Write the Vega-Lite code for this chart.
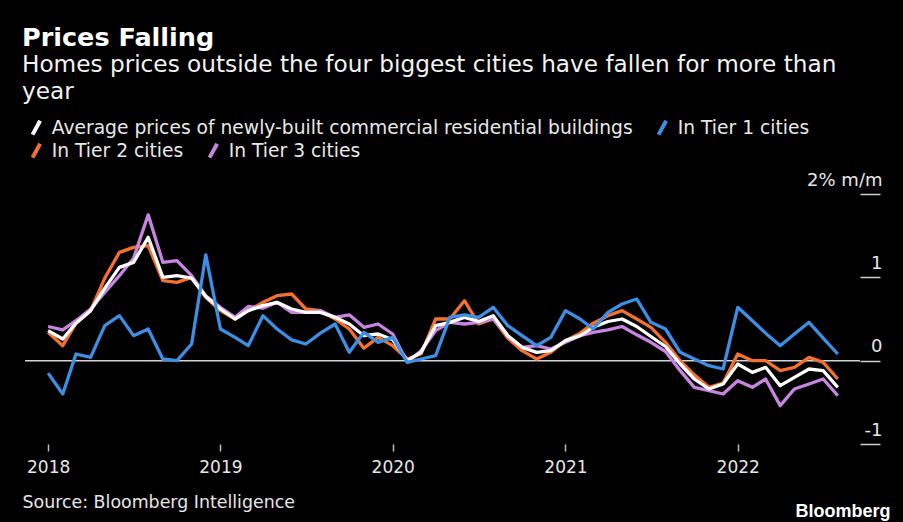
{
  "$schema": "https://vega.github.io/schema/vega-lite/v6.json",
  "width": 835,
  "height": 250,
  "autosize": {"type": "none"},
  "padding": {"left": 25, "top": 194, "right": 43, "bottom": 78},
  "background": "#000000",
  "title": {
    "text": "Prices Falling",
    "subtitle": ["Homes prices outside the four biggest cities have fallen for more than", "year"],
    "anchor": "start",
    "frame": "group",
    "dx": -3,
    "offset": 15,
    "font": "DejaVu Sans",
    "fontSize": 25.5,
    "fontWeight": "bold",
    "color": "#ffffff",
    "subtitleFont": "DejaVu Sans",
    "subtitleFontSize": 23.2,
    "subtitleColor": "#f2f2f2",
    "subtitlePadding": 2,
    "subtitleLineHeight": 27
  },
  "data": {
    "values": [
      {"date": "2018-01-01", "avg": 0.36, "t1": -0.15, "t2": 0.34, "t3": 0.41},
      {"date": "2018-02-01", "avg": 0.26, "t1": -0.40, "t2": 0.18, "t3": 0.37},
      {"date": "2018-03-01", "avg": 0.45, "t1": 0.08, "t2": 0.45, "t3": 0.48},
      {"date": "2018-04-01", "avg": 0.60, "t1": 0.04, "t2": 0.60, "t3": 0.62},
      {"date": "2018-05-01", "avg": 0.87, "t1": 0.42, "t2": 0.99, "t3": 0.82},
      {"date": "2018-06-01", "avg": 1.12, "t1": 0.54, "t2": 1.30, "t3": 1.02},
      {"date": "2018-07-01", "avg": 1.18, "t1": 0.30, "t2": 1.36, "t3": 1.23},
      {"date": "2018-08-01", "avg": 1.48, "t1": 0.38, "t2": 1.38, "t3": 1.75},
      {"date": "2018-09-01", "avg": 1.00, "t1": 0.02, "t2": 0.96, "t3": 1.18},
      {"date": "2018-10-01", "avg": 1.02, "t1": 0.00, "t2": 0.94, "t3": 1.20},
      {"date": "2018-11-01", "avg": 0.99, "t1": 0.20, "t2": 1.00, "t3": 1.02},
      {"date": "2018-12-01", "avg": 0.77, "t1": 1.27, "t2": 0.76, "t3": 0.78},
      {"date": "2019-01-01", "avg": 0.62, "t1": 0.38, "t2": 0.60, "t3": 0.64},
      {"date": "2019-02-01", "avg": 0.50, "t1": 0.28, "t2": 0.50, "t3": 0.52},
      {"date": "2019-03-01", "avg": 0.60, "t1": 0.18, "t2": 0.60, "t3": 0.65},
      {"date": "2019-04-01", "avg": 0.66, "t1": 0.54, "t2": 0.70, "t3": 0.63},
      {"date": "2019-05-01", "avg": 0.70, "t1": 0.38, "t2": 0.78, "t3": 0.70},
      {"date": "2019-06-01", "avg": 0.62, "t1": 0.25, "t2": 0.80, "t3": 0.58},
      {"date": "2019-07-01", "avg": 0.58, "t1": 0.20, "t2": 0.62, "t3": 0.58},
      {"date": "2019-08-01", "avg": 0.58, "t1": 0.33, "t2": 0.60, "t3": 0.60},
      {"date": "2019-09-01", "avg": 0.52, "t1": 0.44, "t2": 0.50, "t3": 0.52},
      {"date": "2019-10-01", "avg": 0.44, "t1": 0.10, "t2": 0.38, "t3": 0.55},
      {"date": "2019-11-01", "avg": 0.30, "t1": 0.34, "t2": 0.15, "t3": 0.40},
      {"date": "2019-12-01", "avg": 0.32, "t1": 0.22, "t2": 0.28, "t3": 0.44},
      {"date": "2020-01-01", "avg": 0.25, "t1": 0.28, "t2": 0.18, "t3": 0.32},
      {"date": "2020-02-01", "avg": 0.00, "t1": -0.02, "t2": 0.02, "t3": -0.02},
      {"date": "2020-03-01", "avg": 0.10, "t1": 0.02, "t2": 0.08, "t3": 0.12},
      {"date": "2020-04-01", "avg": 0.42, "t1": 0.06, "t2": 0.50, "t3": 0.36},
      {"date": "2020-05-01", "avg": 0.46, "t1": 0.52, "t2": 0.50, "t3": 0.46},
      {"date": "2020-06-01", "avg": 0.52, "t1": 0.55, "t2": 0.72, "t3": 0.44},
      {"date": "2020-07-01", "avg": 0.47, "t1": 0.52, "t2": 0.44, "t3": 0.46},
      {"date": "2020-08-01", "avg": 0.54, "t1": 0.64, "t2": 0.50, "t3": 0.50},
      {"date": "2020-09-01", "avg": 0.30, "t1": 0.42, "t2": 0.27, "t3": 0.30},
      {"date": "2020-10-01", "avg": 0.16, "t1": 0.30, "t2": 0.12, "t3": 0.16},
      {"date": "2020-11-01", "avg": 0.10, "t1": 0.18, "t2": 0.02, "t3": 0.18},
      {"date": "2020-12-01", "avg": 0.12, "t1": 0.28, "t2": 0.10, "t3": 0.14},
      {"date": "2021-01-01", "avg": 0.24, "t1": 0.60, "t2": 0.24, "t3": 0.22},
      {"date": "2021-02-01", "avg": 0.30, "t1": 0.50, "t2": 0.33, "t3": 0.30},
      {"date": "2021-03-01", "avg": 0.40, "t1": 0.38, "t2": 0.45, "t3": 0.34},
      {"date": "2021-04-01", "avg": 0.47, "t1": 0.58, "t2": 0.54, "t3": 0.37},
      {"date": "2021-05-01", "avg": 0.50, "t1": 0.68, "t2": 0.60, "t3": 0.41},
      {"date": "2021-06-01", "avg": 0.41, "t1": 0.74, "t2": 0.50, "t3": 0.31},
      {"date": "2021-07-01", "avg": 0.29, "t1": 0.46, "t2": 0.40, "t3": 0.22},
      {"date": "2021-08-01", "avg": 0.17, "t1": 0.38, "t2": 0.22, "t3": 0.11},
      {"date": "2021-09-01", "avg": -0.04, "t1": 0.10, "t2": 0.00, "t3": -0.12},
      {"date": "2021-10-01", "avg": -0.22, "t1": 0.02, "t2": -0.17, "t3": -0.32},
      {"date": "2021-11-01", "avg": -0.34, "t1": -0.06, "t2": -0.32, "t3": -0.36},
      {"date": "2021-12-01", "avg": -0.28, "t1": -0.10, "t2": -0.27, "t3": -0.40},
      {"date": "2022-01-01", "avg": -0.04, "t1": 0.64, "t2": 0.08, "t3": -0.24},
      {"date": "2022-02-01", "avg": -0.14, "t1": 0.48, "t2": 0.00, "t3": -0.32},
      {"date": "2022-03-01", "avg": -0.08, "t1": 0.33, "t2": 0.00, "t3": -0.22},
      {"date": "2022-04-01", "avg": -0.30, "t1": 0.18, "t2": -0.12, "t3": -0.54},
      {"date": "2022-05-01", "avg": -0.20, "t1": 0.32, "t2": -0.08, "t3": -0.34},
      {"date": "2022-06-01", "avg": -0.10, "t1": 0.46, "t2": 0.04, "t3": -0.28},
      {"date": "2022-07-01", "avg": -0.12, "t1": 0.27, "t2": -0.02, "t3": -0.22},
      {"date": "2022-08-01", "avg": -0.32, "t1": 0.08, "t2": -0.22, "t3": -0.42}
    ]
  },
  "layer": [
    {
      "data": {"values": [{}]},
      "mark": {"type": "rule", "color": "#d4d4d4", "strokeWidth": 1.5},
      "encoding": {"y": {"datum": 0}}
    },
    {
      "transform": [{"fold": ["t2", "t3"], "as": ["series", "value"]}],
      "mark": {"type": "line", "strokeWidth": 3.3, "strokeJoin": "round"},
      "encoding": {
        "x": {
          "field": "date",
          "type": "temporal",
          "scale": {"type": "utc", "domain": [{"year": 2017, "month": 11, "date": 13, "utc": true}, {"year": 2022, "month": 9, "date": 17, "utc": true}]},
          "axis": {
            "orient": "bottom",
            "values": [
              {"year": 2018, "month": 1, "date": 1, "utc": true},
              {"year": 2019, "month": 1, "date": 1, "utc": true},
              {"year": 2020, "month": 1, "date": 1, "utc": true},
              {"year": 2021, "month": 1, "date": 1, "utc": true},
              {"year": 2022, "month": 1, "date": 1, "utc": true}
            ],
            "format": "%Y",
            "formatType": "utc",
            "domain": false,
            "grid": false,
            "tickSize": 7,
            "tickColor": "#bdbdbd",
            "tickWidth": 1.5,
            "labelFont": "DejaVu Sans",
            "labelFontSize": 17,
            "labelColor": "#e6e6e6",
            "labelPadding": 8,
            "labelFlush": false,
            "labelOverlap": false,
            "title": "Source: Bloomberg Intelligence",
            "titleFont": "DejaVu Sans",
            "titleFontSize": 17.4,
            "titleFontWeight": "normal",
            "titleColor": "#e6e6e6",
            "titleAnchor": "start",
            "titleAlign": "left",
            "titleBaseline": "middle",
            "titleX": -3,
            "titleY": 58
          }
        },
        "y": {
          "field": "value",
          "type": "quantitative",
          "scale": {"domain": [-1, 2], "nice": false, "zero": false},
          "axis": {
            "orient": "right",
            "values": [-1, 0, 1, 2],
            "domain": false,
            "grid": false,
            "tickSize": 20,
            "tickColor": "#cfcfcf",
            "tickWidth": 1.5,
            "labelAlign": "right",
            "labelBaseline": "alphabetic",
            "labelPadding": 2,
            "labelOffset": -9,
            "labelFont": "DejaVu Sans",
            "labelFontSize": 18,
            "labelColor": "#e6e6e6",
            "labelFlush": false,
            "labelOverlap": false,
            "labelExpr": "datum.value == 2 ? '2% m/m' : '' + datum.value",
            "title": "Bloomberg",
            "titleAngle": 0,
            "titleFont": "Liberation Sans",
            "titleFontSize": 18,
            "titleFontWeight": "bold",
            "titleColor": "#ffffff",
            "titleAlign": "right",
            "titleBaseline": "alphabetic",
            "titleX": 30,
            "titleY": 322
          }
        },
        "color": {
          "field": "series",
          "type": "nominal",
          "scale": {"domain": ["t2", "t3"], "range": ["#f3702f", "#c884e0"]},
          "legend": {
            "legendX": 2,
            "legendY": -53,
            "labelExpr": "datum.label == 't2' ? 'In Tier 2 cities' : 'In Tier 3 cities'"
          }
        }
      }
    },
    {
      "transform": [{"fold": ["avg", "t1"], "as": ["series", "value"]}],
      "mark": {"type": "line", "strokeWidth": 3.3, "strokeJoin": "round"},
      "encoding": {
        "x": {"field": "date", "type": "temporal"},
        "y": {"field": "value", "type": "quantitative"},
        "color": {
          "field": "series",
          "type": "nominal",
          "scale": {"domain": ["avg", "t1"], "range": ["#ffffff", "#3b8fe4"]},
          "legend": {
            "legendX": 2,
            "legendY": -76,
            "labelExpr": "datum.label == 'avg' ? 'Average prices of newly-built commercial residential buildings' : 'In Tier 1 cities'"
          }
        }
      }
    }
  ],
  "resolve": {"scale": {"color": "independent"}, "legend": {"color": "independent"}},
  "config": {
    "view": {"stroke": null},
    "legend": {
      "orient": "none",
      "direction": "horizontal",
      "title": null,
      "padding": 0,
      "symbolType": "M-0.55,1L0.55,-1",
      "symbolSize": 190,
      "symbolStrokeWidth": 4,
      "labelFont": "DejaVu Sans",
      "labelFontSize": 18.7,
      "labelColor": "#e8e8e8",
      "labelLimit": 0,
      "labelOffset": 6,
      "columnPadding": 17
    }
  }
}
